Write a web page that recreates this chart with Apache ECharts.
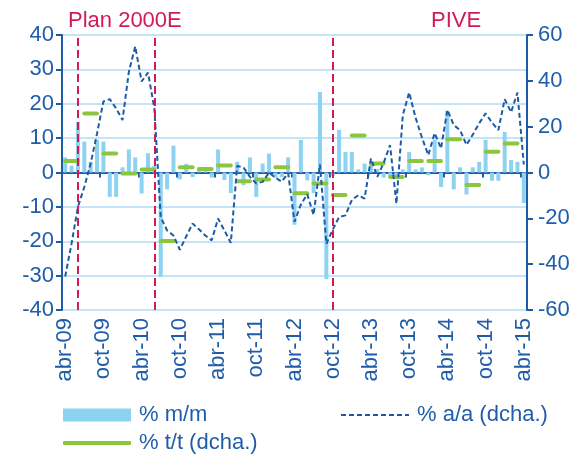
<!DOCTYPE html>
<html>
<head>
<meta charset="utf-8">
<script src="https://cdn.jsdelivr.net/npm/echarts@6/dist/echarts.min.js"></script>
<style>html,body{margin:0;padding:0;background:#fff;}#c{width:579px;height:459px;}</style>
</head>
<body>
<div id="c"></div>
<script>
// ---- data ----
var categories = [
 'abr-09','may-09','jun-09','jul-09','ago-09','sep-09','oct-09','nov-09','dic-09','ene-10','feb-10','mar-10',
 'abr-10','may-10','jun-10','jul-10','ago-10','sep-10','oct-10','nov-10','dic-10','ene-11','feb-11','mar-11',
 'abr-11','may-11','jun-11','jul-11','ago-11','sep-11','oct-11','nov-11','dic-11','ene-12','feb-12','mar-12',
 'abr-12','may-12','jun-12','jul-12','ago-12','sep-12','oct-12','nov-12','dic-12','ene-13','feb-13','mar-13',
 'abr-13','may-13','jun-13','jul-13','ago-13','sep-13','oct-13','nov-13','dic-13','ene-14','feb-14','mar-14',
 'abr-14','may-14','jun-14','jul-14','ago-14','sep-14','oct-14','nov-14','dic-14','ene-15','feb-15','mar-15',
 'abr-15'];
var mm = [
 4.4, 2.0, 14.7, 9.0, 3.1, 9.5, 9.0, -7.1, -7.1, 1.5, 6.7, 4.4,
 -6.1, 5.6, 2.0, -30.3, -4.9, 7.8, -2.0, 2.5, -1.3, 1.0, 0.5, -1.5,
 6.7, -2.2, -6.0, 3.1, -3.7, 4.4, -7.1, 2.6, 5.5, -1.5, -1.3, 4.4,
 -15.2, 9.5, -2.3, -6.0, 23.4, -31.0, -1.0, 12.4, 6.0, 6.0, 0.9, 2.6,
 2.8, 1.0, -1.5, -1.0, -1.5, 0.9, 6.0, 0.9, 1.5, -0.8, 9.5, -4.2,
 18.0, -4.9, 1.5, -6.4, 1.5, 3.1, 9.5, -2.4, -2.4, 11.8, 3.6, 3.1,
 -8.9];
var aa = [
 -45.4, -31.0, -15.0, -6.3, 3.9, 17.0, 31.0, 32.0, 28.0, 22.9, 44.0, 55.0,
 39.7, 43.6, 28.0, -19.5, -25.3, -27.5, -33.7, -27.9, -22.3, -24.8, -27.5, -29.6,
 -20.1, -25.3, -30.7, 2.8, 2.2, -1.9, -4.8, -4.1, 0.0, -2.3, -4.0, -0.3,
 -21.5, -14.0, -9.5, -18.5, 3.5, -31.1, -25.0, -19.4, -18.7, -12.0, -9.9, -11.4,
 6.1, -1.9, 4.2, 12.0, -13.6, 25.0, 34.9, 24.0, 15.3, 7.6, 17.2, 10.5,
 27.3, 20.7, 18.5, 12.0, 16.6, 21.5, 25.8, 21.8, 18.5, 32.0, 26.3, 34.9,
 3.5];
// quarterly % t/t, Q2-09 .. Q1-15 (each spans 3 monthly categories)
var tt = [5.0, 25.8, 8.3, -0.4, 1.3, -29.9, 2.3, 1.5, 3.1, -3.8, -3.1, 2.3,
          -9.1, -4.8, -9.8, 16.1, 3.9, -2.0, 5.0, 5.0, 14.5, -5.5, 9.1, 12.7];
var leftTicks = [-40, 40, 10];
var rightTicks = [-60, 60, 20];
var markers = ['jun-09', 'jun-10', 'oct-12'];

// ---- styles ----
var blue = '#1D5BA6', txt = '#1F5DAA', grid = '#C3E5F7', barC = '#8DD2F1',
    green = '#8CC63F', red = '#D21A56';
var FF = 'Liberation Sans, Arial, sans-serif';
var FS = 22;

var ttData = tt.map(function (v, q) { return [3 * q, 3 * q + 2, v]; });

var chart = echarts.init(document.getElementById('c'), null, {renderer: 'canvas'});
chart.setOption({
  animation: false,
  textStyle: {fontFamily: FF},
  grid: {left: 62, right: 52, top: 35, bottom: 149},
  graphic: [
    {type: 'text', left: 68, top: 10, style: {text: 'Plan 2000E', fill: red, fontSize: FS, fontFamily: FF}},
    {type: 'text', left: 431, top: 10, style: {text: 'PIVE', fill: red, fontSize: FS, fontFamily: FF}}
  ],
  legend: [
    {left: 58, top: 399, orient: 'vertical', itemWidth: 68, itemHeight: 13, icon: 'rect',
     data: ['% m/m'], textStyle: {fontSize: FS, color: txt, fontFamily: FF, padding: [0, 0, 0, 3]}},
    {left: 58, top: 427, itemWidth: 68, itemHeight: 4, icon: 'roundRect',
     data: ['% t/t (dcha.)'], textStyle: {fontSize: FS, color: txt, fontFamily: FF, padding: [0, 0, 0, 3]}},
    {left: 335, top: 399, itemWidth: 68, itemHeight: 13, itemStyle: {opacity: 0},
     data: ['% a/a (dcha.)'], textStyle: {fontSize: FS, color: txt, fontFamily: FF, padding: [0, 0, 0, 3]}}
  ],
  xAxis: [
    {type: 'category', data: categories, position: 'bottom',
     axisLine: {onZero: true, lineStyle: {color: blue, width: 2}},
     axisTick: {show: true, interval: 5, length: 5, lineStyle: {color: blue, width: 2}},
     axisLabel: {show: false}, splitLine: {show: false}},
    {type: 'category', data: categories, position: 'bottom',
     axisLine: {show: false, onZero: false}, axisTick: {show: false},
     axisLabel: {interval: 5, rotate: 90, margin: 8, fontSize: FS, color: txt, fontFamily: FF},
     splitLine: {show: false}}
  ],
  yAxis: [
    {type: 'value', min: leftTicks[0], max: leftTicks[1], interval: leftTicks[2], position: 'left',
     axisLine: {show: true, onZero: false, lineStyle: {color: blue, width: 2}},
     axisTick: {show: true, length: 6, lineStyle: {color: blue, width: 2}},
     axisLabel: {fontSize: FS, color: txt, margin: 8, fontFamily: FF},
     splitLine: {show: true, lineStyle: {color: grid, width: 2}}},
    {type: 'value', min: rightTicks[0], max: rightTicks[1], interval: rightTicks[2], position: 'right',
     axisLine: {show: true, onZero: false, lineStyle: {color: blue, width: 2}},
     axisTick: {show: true, length: 6, lineStyle: {color: blue, width: 2}},
     axisLabel: {fontSize: FS, color: txt, margin: 11, fontFamily: FF},
     splitLine: {show: false}}
  ],
  series: [
    {name: '% m/m', type: 'bar', xAxisIndex: 0, yAxisIndex: 0, data: mm, barWidth: 4,
     itemStyle: {color: barC}, z: 2},
    {name: '% t/t (dcha.)', type: 'custom', xAxisIndex: 0, yAxisIndex: 1, data: ttData,
     encode: {x: [0, 1], y: 2}, itemStyle: {color: green}, z: 3,
     renderItem: function (params, api) {
       var s = api.coord([api.value(0), api.value(2)]);
       var e = api.coord([api.value(1), api.value(2)]);
       return {type: 'line', shape: {x1: s[0], y1: s[1], x2: e[0], y2: e[1]},
               style: {stroke: green, lineWidth: 4, lineCap: 'round'}};
     }},
    {name: '% a/a (dcha.)', type: 'line', xAxisIndex: 0, yAxisIndex: 1, data: aa,
     symbol: 'none', z: 4,
     lineStyle: {color: blue, width: 2, type: [5, 3]}, itemStyle: {color: blue},
     markLine: {silent: true, symbol: ['none', 'none'], label: {show: false},
       lineStyle: {color: red, width: 2, type: [8, 4]},
       data: markers.map(function (m) { return {xAxis: m}; })}}
  ]
});
</script>
</body>
</html>
